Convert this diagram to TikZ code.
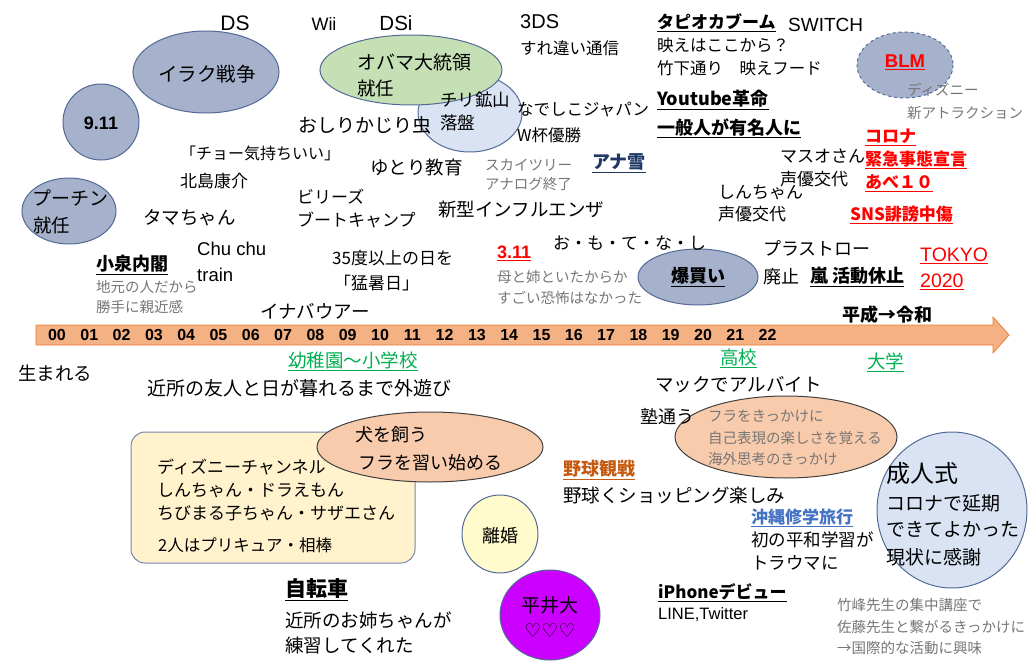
\documentclass[tikz,border=0pt]{standalone}
\usepackage{fontspec}
\setmainfont{Noto Sans CJK JP}
\newfontfamily\djv{DejaVu Sans}
\newfontfamily\lib{Liberation Sans}
\definecolor{gbfill}{RGB}{166,177,203}
\definecolor{gbline}{RGB}{84,106,150}
\definecolor{ltblue}{RGB}{218,227,243}
\definecolor{ltgreen}{RGB}{197,224,180}
\definecolor{orfill}{RGB}{248,203,173}
\definecolor{tlfill}{RGB}{244,177,131}
\definecolor{tlline}{RGB}{237,125,49}
\definecolor{boxfill}{RGB}{255,242,204}
\definecolor{ylfill}{RGB}{255,251,204}
\definecolor{mgfill}{RGB}{204,0,255}
\definecolor{txgray}{RGB}{118,118,118}
\definecolor{grn}{RGB}{0,176,80}
\definecolor{anablue}{RGB}{31,56,100}
\definecolor{okblue}{RGB}{68,114,196}
\definecolor{brn}{RGB}{197,90,17}
\definecolor{rd}{RGB}{255,0,0}
\begin{document}
\begin{tikzpicture}[x=1pt,y=-1pt,
  tx/.style={inner sep=0pt,anchor=west,font=\fontsize{18.5}{20}\selectfont},
  txc/.style={tx,anchor=center},
  mid/.style={inner sep=0pt,anchor=west,font=\fontsize{17}{19}\selectfont},
  sm/.style={inner sep=0pt,anchor=west,text=txgray,font=\fontsize{14.5}{16}\selectfont},
  bd/.style={inner sep=0pt,anchor=west,font=\fontsize{18}{20}\selectfont\bfseries},
  lat/.style={inner sep=0pt,anchor=west,font=\fontsize{19}{21}\selectfont\lib},
  num/.style={inner sep=0pt,anchor=center,font=\fontsize{16}{18}\selectfont\lib\bfseries},
  gbell/.style={draw=gbline,fill=gbfill,line width=1pt},
  blell/.style={draw=gbline,fill=ltblue,line width=1pt},
  orell/.style={draw=black!75,fill=orfill,line width=1pt}]
\useasboundingbox (0,0) rectangle (1034,669);
% ---------- shapes ----------
\draw[gbell] (206,72) ellipse [x radius=73,y radius=41];
\draw[gbell] (101,122) ellipse [x radius=38,y radius=38];
\draw[gbell] (69,211) ellipse [x radius=47,y radius=33];
\draw[blell] (470,113) ellipse [x radius=52,y radius=39];
\draw[draw=gbline,fill=ltgreen,line width=1pt] (411,70) ellipse [x radius=91,y radius=35];
\draw[gbell,dashed] (905,65) ellipse [x radius=48,y radius=33];
\draw[gbell] (698,277) ellipse [x radius=60,y radius=28];
% timeline arrow
\draw[draw=tlline,fill=tlfill,line width=0.8pt] (36,325) -- (993,325) -- (993,317) -- (1009,335) -- (993,353) -- (993,345) -- (36,345) -- cycle;
% lower shapes
\draw[draw=gbline!80,fill=boxfill,line width=1pt,rounded corners=14pt] (131,432) rectangle (415,563);
\draw[orell] (430,447) ellipse [x radius=113,y radius=35];
\draw[orell] (786,437) ellipse [x radius=111,y radius=41];
\draw[draw=gbline,fill=ylfill,line width=1pt] (500,534) ellipse [x radius=38,y radius=39];
\draw[draw=gbline,fill=mgfill,line width=1pt] (550,615) ellipse [x radius=50,y radius=45];
\draw[blell] (952,510) ellipse [x radius=75,y radius=78];
% ---------- top texts ----------
\node[lat,anchor=center,font=\fontsize{21}{23}\selectfont\lib] (ds) at (235,23) {DS};
\node[lat,anchor=center,font=\fontsize{18}{20}\selectfont\lib] (wii) at (324,24) {Wii};
\node[lat,anchor=center,font=\fontsize{20.5}{22}\selectfont\lib] (dsi) at (396,23) {DSi};
\node[txc,font=\fontsize{19.5}{21}\selectfont] (iraq) at (207,74) {イラク戦争};
\node[num,font=\fontsize{18}{20}\selectfont\lib\bfseries] (nine) at (101,123) {9.11};
\node[txc,font=\fontsize{19}{21}\selectfont] (putin) at (70,198) {プーチン};
\node[tx] (putin2) at (33,225) {就任};
\node[tx,font=\fontsize{19}{21}\selectfont] (obama) at (357,62) {オバマ大統領};
\node[tx] (obama2) at (357,88) {就任};
\node[tx,font=\fontsize{17.5}{19}\selectfont] (chile) at (440,100) {チリ鉱山};
\node[tx,font=\fontsize{17.5}{19}\selectfont] (chile2) at (440,123) {落盤};
\node[tx,font=\fontsize{19}{21}\selectfont] (oshiri) at (298,125) {おしりかじり虫};
\node[mid,font=\fontsize{16}{18}\selectfont] (cho) at (180,153) {「チョー気持ちいい」};
\node[mid] (kita) at (180,181) {北島康介};
\node[tx] (yutori) at (370,167) {ゆとり教育};
\node[sm] (sky) at (485,165) {スカイツリー};
\node[sm] (ana) at (485,184) {アナログ終了};
\node[tx] (tama) at (143,218) {タマちゃん};
\node[mid] (billy) at (297,197) {ビリーズ};
\node[mid] (billy2) at (297,220) {ブートキャンプ};
\node[tx] (flu) at (438,210) {新型インフルエンザ};
\node[lat,font=\fontsize{20}{22}\selectfont\lib] (3ds) at (520,22) {3DS};
\node[mid,font=\fontsize{16.5}{18}\selectfont] (sure) at (520,48) {すれ違い通信};
\node[mid,font=\fontsize{16.5}{18}\selectfont] (nade) at (517,110) {なでしこジャパン};
\node[mid,font=\fontsize{16.5}{18}\selectfont] (nade2) at (517,135) {W杯優勝};
\node[bd,text=anablue] (anayuki) at (592,163) {\underline{アナ雪}};
\node[bd,font=\fontsize{17}{19}\selectfont\bfseries] (tapi) at (657,23) {\underline{タピオカブーム}};
\node[lat] (switch) at (788,25) {SWITCH};
\node[mid,font=\fontsize{16.5}{18}\selectfont] (hae) at (657,45) {映えはここから？};
\node[mid,font=\fontsize{16.5}{18}\selectfont] (take) at (657,68) {竹下通り　映えフード};
\node[bd] (yt) at (657,100) {\underline{Youtube革命}};
\node[bd] (yt2) at (657,128) {\underline{一般人が有名人に}};
\node[bd,text=rd,anchor=center,font=\fontsize{18.5}{20}\selectfont\lib\bfseries] (blm) at (905,62) {\underline{BLM}};
\node[sm] (dis) at (907,90) {ディズニー};
\node[sm] (dis2) at (907,113) {新アトラクション};
\node[bd,text=rd,font=\fontsize{17}{19}\selectfont\bfseries] (corona) at (865,137) {\underline{コロナ}};
\node[bd,text=rd,font=\fontsize{17}{19}\selectfont\bfseries] (kinkyu) at (865,160) {\underline{緊急事態宣言}};
\node[bd,text=rd,font=\fontsize{17}{19}\selectfont\bfseries] (abe) at (865,183) {\underline{あべ１０}};
\node[mid] (masuo) at (780,156) {マスオさん};
\node[mid] (masuo2) at (780,179) {声優交代};
\node[mid] (shin) at (718,192) {しんちゃん};
\node[mid] (shin2) at (718,214) {声優交代};
\node[bd,text=rd,font=\fontsize{17}{19}\selectfont\bfseries] (sns) at (850,215) {\underline{SNS誹謗中傷}};
% ---------- middle-upper texts ----------
\node[lat,font=\fontsize{18.5}{20}\selectfont\lib] (chu) at (197,249) {Chu chu};
\node[lat,font=\fontsize{18.5}{20}\selectfont\lib] (chu2) at (197,275) {train};
\node[bd] (koizumi) at (96,265) {\underline{小泉内閣}};
\node[sm] (jimoto) at (96,287) {地元の人だから};
\node[sm] (jimoto2) at (96,307) {勝手に親近感};
\node[mid] (35) at (332,258) {35度以上の日を};
\node[mid] (moshobi) at (334,283) {「猛暑日」};
\node[tx] (inaba) at (260,311) {イナバウアー};
\node[lat,text=rd,font=\fontsize{18}{20}\selectfont\lib\bfseries] (311) at (497,253) {\underline{3.11}};
\node[sm] (haha) at (497,277) {母と姉といたからか};
\node[sm] (haha2) at (497,298) {すごい恐怖はなかった};
\node[mid] (omote) at (553,243) {お・も・て・な・し};
\node[bd,anchor=center] (baku) at (698,277) {\underline{爆買い}};
\node[tx,font=\fontsize{18}{20}\selectfont] (plastic) at (763,248) {プラストロー};
\node[tx,font=\fontsize{18}{20}\selectfont] (plastic2) at (763,277) {廃止};
\node[bd] (arashi) at (810,277) {\underline{嵐 活動休止}};
\node[lat,text=rd,font=\fontsize{19.5}{21}\selectfont\lib] (tokyo) at (920,256) {\underline{TOKYO}};
\node[lat,text=rd,font=\fontsize{19.5}{21}\selectfont\lib] (tokyo2) at (920,282) {\underline{2020}};
\node[bd,anchor=center] (heisei) at (887,315) {平成→令和};
% ---------- timeline numbers ----------
\foreach \i/\l in {0/00,1/01,2/02,3/03,4/04,5/05,6/06,7/07,8/08,9/09,10/10,11/11,12/12,13/13,14/14,15/15,16/16,17/17,18/18,19/19,20/20,21/21,22/22}
  \node[num] (y\l) at ({57+32.3*\i},335) {\l};
% ---------- below timeline ----------
\node[tx] (umare) at (18,373) {生まれる};
\node[tx,text=grn] (yochien) at (288,361) {\underline{幼稚園～小学校}};
\node[tx,font=\fontsize{19}{21}\selectfont] (kinjo) at (147,388) {近所の友人と日が暮れるまで外遊び};
\node[tx,text=grn] (koko) at (720,358) {\underline{高校}};
\node[tx,text=grn] (daigaku) at (867,362) {\underline{大学}};
\node[tx] (mac) at (655,385) {マックでアルバイト};
\node[tx,font=\fontsize{18}{20}\selectfont] (juku) at (640,417) {塾通う};
\node[sm,font=\fontsize{14.5}{16}\selectfont] (hula1) at (708,416) {フラをきっかけに};
\node[sm] (hula2) at (708,438) {自己表現の楽しさを覚える};
\node[sm] (hula3) at (708,459) {海外思考のきっかけ};
\node[mid] (disney) at (157,467) {ディズニーチャンネル};
\node[mid] (shinchan) at (157,490) {しんちゃん・ドラえもん};
\node[mid] (chibi) at (157,513) {ちびまる子ちゃん・サザエさん};
\node[mid,font=\fontsize{16.5}{18}\selectfont] (precure) at (158,545) {2人はプリキュア・相棒};
\node[tx,font=\fontsize{18}{20}\selectfont] (inu) at (355,435) {犬を飼う};
\node[tx,font=\fontsize{18}{20}\selectfont] (hula) at (358,463) {フラを習い始める};
\node[bd,text=brn] (yakyu) at (563,470) {\underline{野球観戦}};
\node[tx] (yakyu2) at (563,495) {野球くショッピング楽しみ};
\node[txc,font=\fontsize{18}{20}\selectfont] (rikon) at (500,536) {離婚};
\node[txc,font=\fontsize{19}{21}\selectfont] (hirai) at (550,605) {平井大};
\node[txc,font=\fontsize{19}{21}\selectfont\djv] (heart) at (550,631) {♡♡♡};
\node[bd,text=okblue,font=\fontsize{17}{19}\selectfont\bfseries] (okinawa) at (751,518) {\underline{沖縄修学旅行}};
\node[mid,font=\fontsize{17.5}{19}\selectfont] (heiwa) at (751,540) {初の平和学習が};
\node[mid,font=\fontsize{17.5}{19}\selectfont] (trauma) at (751,563) {トラウマに};
\node[bd,font=\fontsize{17}{19}\selectfont\bfseries] (iphone) at (658,593) {\underline{iPhoneデビュー}};
\node[lat,font=\fontsize{16.5}{18}\selectfont\lib] (line) at (658,615) {LINE,Twitter};
\node[tx,font=\fontsize{21}{23}\selectfont\bfseries] (jitensha) at (285,590) {\underline{自転車}};
\node[tx] (onee) at (285,620) {近所のお姉ちゃんが};
\node[tx] (renshu) at (285,645) {練習してくれた};
\node[tx,font=\fontsize{24}{26}\selectfont] (seijin) at (886,473) {成人式};
\node[tx,font=\fontsize{19}{21}\selectfont] (seijin2) at (886,503) {コロナで延期};
\node[tx,font=\fontsize{19}{21}\selectfont] (seijin3) at (886,529) {できてよかった};
\node[tx,font=\fontsize{19}{21}\selectfont] (seijin4) at (886,557) {現状に感謝};
\node[sm] (take1) at (837,605) {竹峰先生の集中講座で};
\node[sm] (take2) at (837,627) {佐藤先生と繋がるきっかけに};
\node[sm] (take3) at (837,648) {→国際的な活動に興味};
\end{tikzpicture}
\end{document}
